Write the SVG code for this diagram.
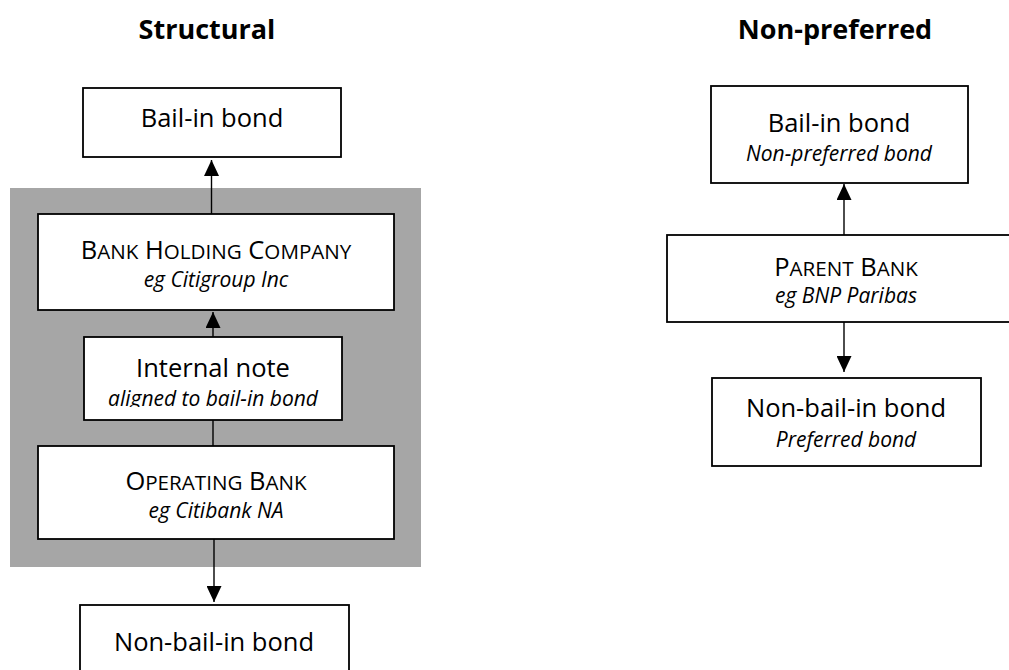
<svg xmlns="http://www.w3.org/2000/svg" width="1009" height="670" viewBox="0 0 1009 670">
<style>
.box{fill:#fff;stroke:#000;stroke-width:1.8}
.t{font-family:"Open Sans","Noto Sans","Liberation Sans",sans-serif;fill:#000;text-anchor:middle}
.main{font-size:25.5px}
.sc{font-size:20.6px}
.it{font-size:21px;font-style:italic}
.title{font-size:27px;font-weight:bold}
.conn{stroke:#000;stroke-width:1.4;fill:none}
</style>
<defs>
<marker id="ah" viewBox="0 0 16 15" refX="16" refY="7.5" markerWidth="16" markerHeight="15" markerUnits="userSpaceOnUse" orient="auto">
<path d="M0,0 L16,7.5 L0,15 z" fill="#000"/>
</marker>
<clipPath id="clipNote"><rect x="84" y="337" width="258" height="70"/></clipPath>
</defs>
<rect width="1009" height="670" fill="#fff"/>

<text class="t title" x="207" y="39">Structural</text>
<text class="t title" x="835" y="39">Non-preferred</text>

<rect id="group-bg" x="10" y="188" width="411" height="379" fill="#a6a6a6"/>

<g id="connectors">
<line class="conn" x1="211.5" y1="214" x2="211.5" y2="160" marker-end="url(#ah)"/>
<line class="conn" x1="213" y1="337" x2="213" y2="312" marker-end="url(#ah)"/>
<line class="conn" x1="213" y1="420" x2="213" y2="446"/>
<line class="conn" x1="214" y1="539" x2="214" y2="602" marker-end="url(#ah)"/>
<line class="conn" x1="844" y1="235" x2="844" y2="184" marker-end="url(#ah)"/>
<line class="conn" x1="844" y1="322" x2="844" y2="372" marker-end="url(#ah)"/>
</g>

<g id="n-bailin-left">
<rect class="box" x="83" y="88" width="258" height="69"/>
<text class="t main" x="212" y="127">Bail-in bond</text>
</g>

<g id="n-bhc">
<rect class="box" x="38" y="214" width="356" height="96"/>
<text class="t main" x="216" y="259">B<tspan class="sc">ANK</tspan> H<tspan class="sc">OLDING</tspan> C<tspan class="sc">OMPANY</tspan></text>
<text class="t it" x="216" y="287">eg Citigroup Inc</text>
</g>

<g id="n-internal">
<rect class="box" x="84" y="337" width="258" height="83"/>
<text class="t main" x="213" y="377">Internal note</text>
<text class="t it" x="213" y="406" clip-path="url(#clipNote)">aligned to bail-in bond</text>
</g>

<g id="n-opbank">
<rect class="box" x="38" y="446" width="356" height="93"/>
<text class="t main" x="216" y="490">O<tspan class="sc">PERATING</tspan> B<tspan class="sc">ANK</tspan></text>
<text class="t it" x="216" y="518">eg Citibank NA</text>
</g>

<g id="n-nonbail-left">
<rect class="box" x="80" y="605" width="269" height="80"/>
<text class="t main" x="214" y="651">Non-bail-in bond</text>
</g>

<g id="n-bailin-right">
<rect class="box" x="711" y="86" width="257" height="97"/>
<text class="t main" x="839" y="132">Bail-in bond</text>
<text class="t it" x="839" y="161">Non-preferred bond</text>
</g>

<g id="n-parent">
<rect class="box" x="667" y="235" width="360" height="87"/>
<text class="t main" x="846" y="276">P<tspan class="sc">ARENT</tspan> B<tspan class="sc">ANK</tspan></text>
<text class="t it" x="846" y="303">eg BNP Paribas</text>
</g>

<g id="n-nonbail-right">
<rect class="box" x="712" y="378" width="269" height="88"/>
<text class="t main" x="846" y="417">Non-bail-in bond</text>
<text class="t it" x="846" y="447">Preferred bond</text>
</g>
</svg>
